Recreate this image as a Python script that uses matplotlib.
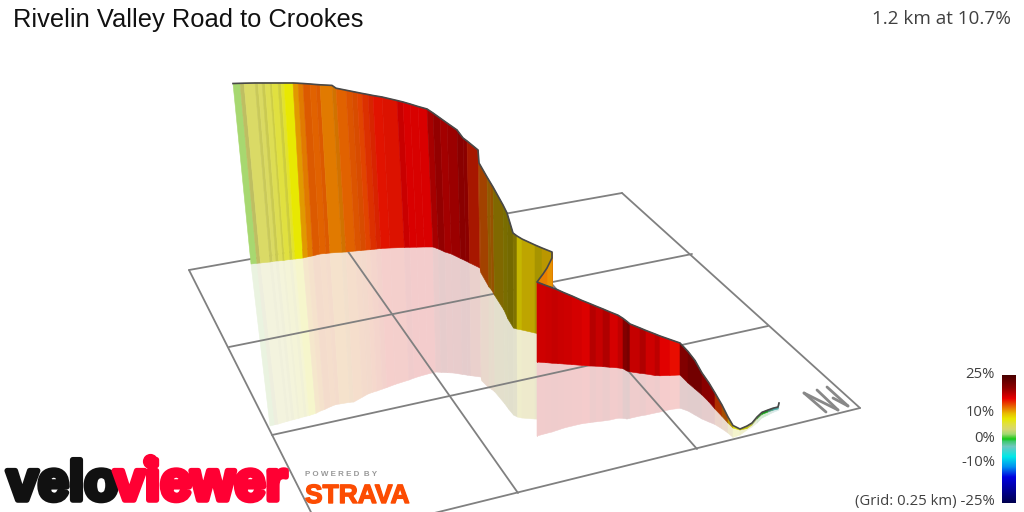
import numpy as np
import matplotlib
matplotlib.use("Agg")
import matplotlib.pyplot as plt
from matplotlib.collections import PolyCollection
from matplotlib.colors import LinearSegmentedColormap
import matplotlib.patheffects as pe

TITLE = "Rivelin Valley Road to Crookes"
SUMMARY = "1.2 km at 10.7%"
LEGEND_VALUES = [25, 10, 0, -10]
LEGEND_LABELS = ["25%", "10%", "0%", "-10%"]
GRID_NOTE = "(Grid: 0.25 km) -25%"

# ribbon stations: screen position of the road top, of its base and of its mirrored edge
top_x = [233,240,244,255,258,262,265,270,272,278,281,284,293,298,303,310,316,320,332,336,346,352,357,362,368,373,382,397,403,410,418,427,433,440,447,457,463,467,478,479,487,490,493,503,507,513,517,522,535,542,552,
         552,547,543,537,
         537,546,552,558,564,572,582,590,596,603,610,618,623,627,630,640,646,655,660,670,680,688,695,702,709,715,722,728,733,740,747,752,757,762,768,773,778,779]
top_y = [83.5,83.3,83.2,83,83,83,83,83,83,83,83,83,83,83.2,83.5,84,84.5,84.8,85.4,88.2,90.2,91.4,92.4,93.4,94.5,95.5,97,100.5,102,104,106.5,109,113,118,123,130,138,141,150,163,177,182,187,205,213,233,236,239,245,248,252,
         258,268,274,282,
         282,285.5,287.6,290,292.7,296,300.5,303.7,306.2,309,312,315.2,318.4,321.5,324,328,330.5,334,336,339.5,343,351.5,360.5,373,383,393,405,417,425.5,429,426,423,417,412.3,410,408.2,407,403]
base_x = [251,257,260.5,270,272.7,276,278.7,283,284.8,290,292.6,295.2,303,308,313,320,326,330,342,346,355.4,361,366,370.8,376.5,381,390,404.4,410,416.7,424.4,433,438.5,445,451.4,460.6,466,469.8,480,481,489,491.6,494.4,504,508,513.5,517,522,535,542,552,
          552,547,543,537,
          537,546,552,558,564,572,582,590,596,603,610,618,623,627,630,640,646,655,660,670,680,688,695,702,709,715,722,728,733,740,747,752,757,762,768,773,778,779]
base_y = [264,263.3,263,262,261.5,261,260.9,260.5,260.2,259.5,259.2,259,258,256.8,255.8,254,253.5,253,252.2,252,251,250.5,250,249.7,249,248.5,248,247.5,247.3,247.2,247,247,249,252,254,258.5,261,263,268,273,287,290,295,310,319,328,329,330,333,334,334,
          334,334,334,334,
          362,362.7,363.2,363.6,364,364.6,365.4,366,366.2,366.7,367.3,367.9,368.7,371,371.8,373.3,374,375.5,375.8,375.5,375,383,389,395,402,409,416.4,423,428,430,428.5,425,419,414.4,412,410.2,409,405]
mirror_x = [270,275,278.4,287,289.3,292,294.5,298.3,300,304.6,307,309.3,316,320.4,324.8,330.9,336,339.6,350,353.8,362.7,368,372.7,377,382.6,386.9,395.4,409,414.2,420.5,427.7,436,441.3,447.5,453.6,462.4,467.6,471,481,482,489,492,495,504.6,508.6,513.6,517.5,522,535,537,537,
            537,537,537,537,
            537,546,552,558,564,572,582,590,596,603,610,618,623,627,630,640,646,655,660,670,680,688,695,702,709,715,722,728,733,740,747,752,757,762,768,773,778,779]
mirror_y = [426,424.7,424,421.4,420.8,420,419.4,418.4,417.9,416.6,416,415.5,413.3,411,409.4,406.5,404.5,404,402.3,402,397,394,392.3,391,389,387.5,384.3,380,378,376,374,372,372.4,372.7,373,374.4,375.2,375.7,377,381,388,389.5,392,403.5,409,415,417,418,419,419,419,
            419,419,419,419,
            436,433.5,432,430,428,426,423.7,422.6,421.8,421,420,418.2,418.3,419,418.3,416,415,413,412,409.6,408.2,411,415,419,422,424.5,428.8,433,437.4,435,430,427,423,418,415,412.5,410.5,410]
# gradient (%) of the stretch that starts at each station, and its lighting factor
grade = [2.2,4,4.3,4.5,4.5,5,5.2,5.5,6,6,6.5,8,11,12,13,12.8,13,12,12,12.8,13.2,13.4,13.8,14.3,14.8,15.3,15.3,16.3,16.2,16,16.2,18,19.5,19,19.5,20.5,19.5,15,13.5,13,11.5,12,10,9,9,9,8.8,9.5,9.3,10,12,
         11.5,12,12,16.3,
         16.3,16.5,16.4,16.5,16.2,16.2,16,17,16.5,17,16.3,16.5,19,20,16.3,17,16.4,16.7,16,15.5,21,22,21.5,20.5,18,14,12.5,10,8,8,6.5,3,1,0,-2,-4,-3,-3]
shade = [1,.88,1,.92,1,.92,1,.92,1,.92,1,1,.97,.97,.95,.97,.95,.97,.9,.97,.95,.93,.97,.95,.93,.97,.95,.9,.95,.93,.95,.9,.95,1,1,1,.9,.72,.75,.7,.62,.65,.55,.52,.5,.55,.85,.82,.72,.8,.95,
         1,1,1,.92,
         .92,.92,.88,.92,.9,.93,.95,.88,.9,.85,.95,.88,.8,.85,.88,.85,.92,.88,.97,1,1,1,.95,1,.75,.75,.72,.8,.95,.85,.85,.9,.8,.8,.75,.8,.9,.9]

# colour scale of the legend
scale_values = [-25,-15,-11,-7,-3,-1,0,2,4,6,8,10,12,14,16,20,25]
scale_colors = ["#000050","#0000e0","#0090f0","#00e8e8","#70c8c0","#40c870","#10c810","#a0d870","#d8d870","#e0e040","#e8e800","#e8c000","#e88000","#e84000","#e80000","#900000","#4a0000"]

# the ground grid
grid_x = [[189,622],[229,692],[272,768],[325,860],[189,325],[342,518],[492,697],[622,860]]
grid_y = [[270,193],[347,254],[435,326],[540,408],[270,540],[243,493],[216,449],[193,408]]

# north marker strokes
north_x = [[804,826],[804,838],[817,838],[827,848],[833,848]]
north_y = [[393,412],[393,410],[390,410],[387,406],[398,406]]

fig = plt.figure(figsize=(10.24,5.12),dpi=100)
ax = fig.add_axes([0,0,1,1])
ax.axis("off")

lo, hi = min(scale_values), max(scale_values)
cmap = LinearSegmentedColormap.from_list("grade",[((v-lo)/(hi-lo),c) for v,c in zip(scale_values,scale_colors)],N=256)

n = len(top_x)
ribbon, reflection, ribbon_c, reflection_c = [],[],[],[]
for i in range(n-1):
    c = np.array(cmap((grade[i]-lo)/(hi-lo))[:3])*shade[i]
    ribbon.append([(top_x[i],top_y[i]),(top_x[i+1],top_y[i+1]),(base_x[i+1],base_y[i+1]),(base_x[i],base_y[i])])
    reflection.append([(base_x[i],base_y[i]),(base_x[i+1],base_y[i+1]),(mirror_x[i+1],mirror_y[i+1]),(mirror_x[i],mirror_y[i])])
    ribbon_c.append(c)
    reflection_c.append(c*0.18+0.80)

ax.add_collection(PolyCollection(reflection,facecolors=reflection_c,edgecolors=reflection_c,linewidths=0.4,zorder=1))
for gx,gy in zip(grid_x,grid_y):
    ax.plot(gx,gy,color="#808080",lw=1.3,zorder=2,solid_capstyle="round")
ax.add_collection(PolyCollection(ribbon,facecolors=ribbon_c,edgecolors=ribbon_c,linewidths=0.4,zorder=3))
ax.plot(top_x,top_y,color="#484848",lw=1.2,zorder=4,solid_joinstyle="round")
for nx,ny in zip(north_x,north_y):
    ax.plot(nx,ny,color="#888888",lw=2,zorder=4,solid_capstyle="round")

# legend bar
ax.imshow(np.linspace(hi,lo,128).reshape(-1,1),cmap=cmap,vmin=lo,vmax=hi,extent=(1002,1016,503,375),aspect="auto",zorder=5)
ui = ["Open Sans","DejaVu Sans"]
for v,l,y in zip(LEGEND_VALUES,LEGEND_LABELS,[374,412,438,463]):
    ax.text(995,y,l,ha="right",va="center",fontsize=10.7,family=ui,color="#404040")
ax.text(995,501,GRID_NOTE,ha="right",va="center",fontsize=10.7,family=ui,color="#404040")

ax.text(13,20,TITLE,ha="left",va="center",fontsize=18.4,family="Liberation Sans",color="#111111")
ax.text(1011,19,SUMMARY,ha="right",va="center",fontsize=13.6,family=ui,color="#404040")

# logos
def heavy(x,s,col):
    ax.text(x,500,s,ha="left",va="baseline",fontsize=40,family="Liberation Sans",weight="bold",color=col,zorder=6,
            path_effects=[pe.withStroke(linewidth=4,foreground=col)])
heavy(7,"velo","#111111")
heavy(114,"viewer","#ff0033")
ax.scatter([150],[461],s=120,color="#ff0033",linewidths=0,zorder=6)
ax.text(305,474,"P O W E R E D  B Y",ha="left",va="center",fontsize=5.8,family="Liberation Sans",weight="bold",color="#999999",zorder=6)
ax.text(305,503,"STRAVA",ha="left",va="baseline",fontsize=19,family="Liberation Sans",weight="bold",color="#fc4c02",zorder=6,
        path_effects=[pe.withStroke(linewidth=1,foreground="#fc4c02")])

ax.set_xlim(0,1024)
ax.set_ylim(512,0)
fig.savefig("out.png",dpi=100)
